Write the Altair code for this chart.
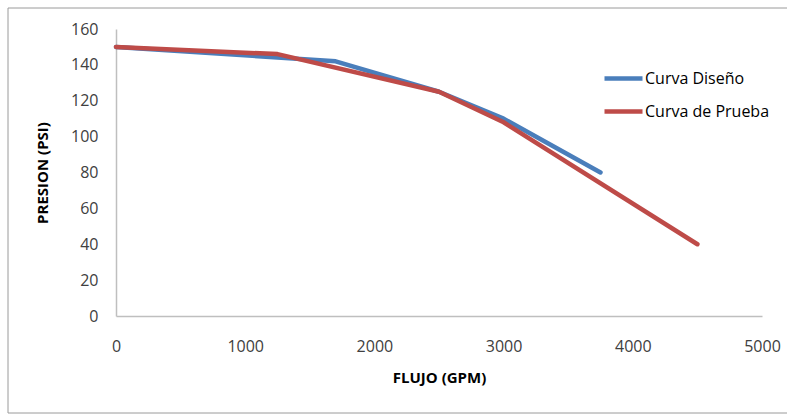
import altair as alt
import pandas as pd

design_x = [0, 1700, 2500, 3000, 3750]
design_y = [150, 142, 125, 110, 80]
test_x = [0, 1250, 2500, 3000, 4500]
test_y = [150, 146, 125, 108, 40]
series = ["Curva Diseño", "Curva de Prueba"]
x_ticks = [0, 1000, 2000, 3000, 4000, 5000]
y_ticks = [0, 20, 40, 60, 80, 100, 120, 140, 160]

rows = []
for i, (x, y) in enumerate(zip(design_x, design_y)):
    rows.append({"flujo": x, "presion": y, "serie": series[0], "o": i})
for i, (x, y) in enumerate(zip(test_x, test_y)):
    rows.append({"flujo": x, "presion": y, "serie": series[1], "o": i})
df = pd.DataFrame(rows)

FONT = "Open Sans"

border = alt.Chart(pd.DataFrame({"a": [0]})).mark_rect(
    fillOpacity=0, stroke="#9a9a9a", strokeWidth=1, clip=False
).encode(
    x=alt.value(-108), x2=alt.value(680), y=alt.value(-21), y2=alt.value(384)
)

lines = alt.Chart(df).mark_line(strokeWidth=4.5, strokeCap="round", strokeJoin="round").encode(
    x=alt.X("flujo:Q", scale=alt.Scale(domain=[0, 5000], nice=False),
            axis=alt.Axis(values=x_ticks, format="d", title="FLUJO (GPM)", grid=False, ticks=False,
                          domainColor="#bfbfbf", domainWidth=1.5,
                          labelFont=FONT, labelFontSize=16, labelColor="#404040",
                          labelPadding=22, labelFlush=False,
                          titleFont=FONT, titleFontSize=15, titleFontWeight="bold",
                          titleColor="#000000", titlePadding=16)),
    y=alt.Y("presion:Q", scale=alt.Scale(domain=[0, 160], nice=False),
            axis=alt.Axis(values=y_ticks, title="PRESION (PSI)", grid=False, ticks=False,
                          domainColor="#bfbfbf", domainWidth=1.5,
                          labelFont=FONT, labelFontSize=16, labelColor="#404040",
                          labelPadding=18,
                          titleFont=FONT, titleFontSize=15, titleFontWeight="bold",
                          titleColor="#000000", titlePadding=20)),
    color=alt.Color("serie:N", sort=series,
                    scale=alt.Scale(domain=series, range=["#4a7ebb", "#be4b48"]),
                    legend=alt.Legend(title=None, orient="none", legendX=486, legendY=28,
                                      symbolType="stroke", symbolSize=1444,
                                      symbolStrokeWidth=4.5, labelFont=FONT,
                                      labelFontSize=16, labelColor="#000000",
                                      rowPadding=2, labelOffset=0, padding=0)),
    order="o:Q",
    detail="serie:N",
)

chart = alt.layer(border, lines).properties(
    width=646, height=287,
    autosize=alt.AutoSizeParams(type="none"),
    padding={"left": 116, "top": 29, "right": 25, "bottom": 99},
    background="white",
).configure_view(stroke=None)

chart.save("out.html", embed_options={"renderer": "svg", "actions": False})
